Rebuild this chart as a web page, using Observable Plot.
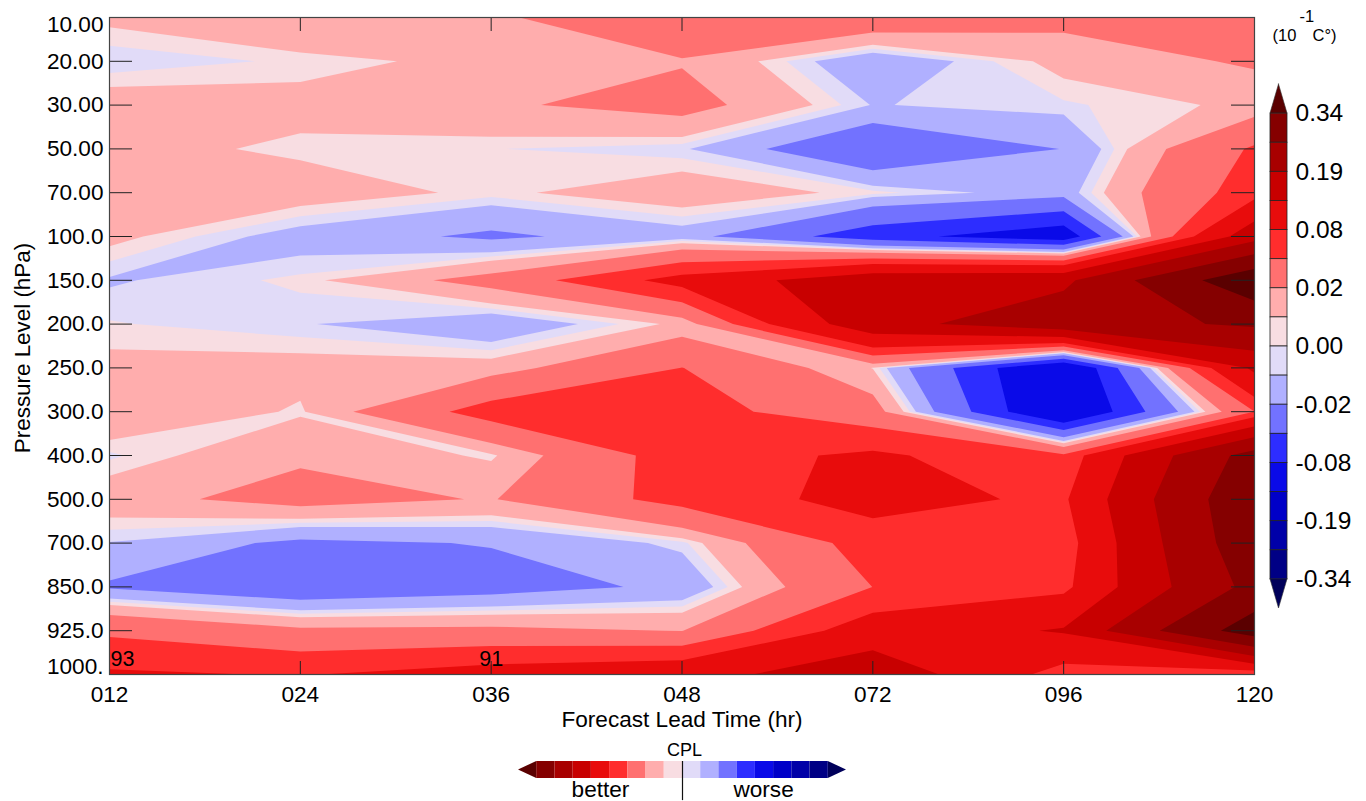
<!DOCTYPE html>
<html>
<head>
<meta charset="utf-8">
<script src="https://cdn.jsdelivr.net/npm/d3@7"></script>
<script src="https://cdn.jsdelivr.net/npm/@observablehq/plot@0.6"></script>
<style>
html,body{margin:0;padding:0;background:#fff;width:1366px;height:801px;overflow:hidden}
#page{position:relative;width:1366px;height:801px}
#page svg{position:absolute;max-width:none}
</style>
</head>
<body>
<div id="page"></div>
<script>
const leadTimes = ["012","024","036","048","072","096","120"];
const levels = ["10.00","20.00","30.00","50.00","70.00","100.0","150.0","200.0","250.0","300.0","400.0","500.0","700.0","850.0","925.0","1000."];

const h012 = [.0076,-.0042,.0115,.0095,.012,.0082,-.0061,.0006,.0083,.0166,-.0014,.0124,-.0055,-.0225,.044,.085];
const h024 = [.0198,.0013,.0091,.0027,.0115,-.01,.0016,-.004,.0095,.0035,.0165,.0285,-.0245,-.0386,.0244,.078];
const h036 = [.0165,.0086,.0172,.0003,.0025,-.0236,.028,-.0156,.0105,.063,.003,.0186,-.0188,-.0295,.025,.0965];
const h048 = [.04,.0185,.0279,-.0035,.013,-.0108,.0929,.0077,.0505,.062,.065,.0608,-.002,-.0158,.0195,.109];
const h072 = [.0382,-.0153,-.0055,-.0409,.0019,-.068,.168,.166,.0045,.03,.086,.0921,.064,.0502,.1007,.166];
const h096 = [.026,.0089,-.0011,-.0195,-.011,-.103,.176,.235,-.125,-.125,.055,.074,.061,.07,.1343,.0625];
const h120 = [.03,.0228,.0074,.054,.065,.165,.402,.2687,.14,.05,.29,.3195,.31,.282,.384,.049];
const columns = [h012,h024,h036,h048,h072,h096,h120];

const thresholds = [-.34,-.26,-.19,-.13,-.08,-.05,-.02,-.005,0,.005,.02,.05,.08,.13,.19,.26,.34];
const palette = ["#00005a","#000085","#0000a8","#0000c8","#0a0ae8","#2d2dff","#7272ff","#b0b0ff","#e1dbf8","#f8dde2","#ffadad","#ff7070","#ff2d2d","#e80c0c","#c80000","#a80000","#850000","#5a0000"];
const barLabels = ["0.34","0.19","0.08","0.02","0.00","-0.02","-0.08","-0.19","-0.34"];

const font = "'Liberation Sans', Arial, sans-serif";
const ink = "#222";
const labelSize = 22.6;
const grid = levels.flatMap((_, r) => columns.map(c => c[r]));
const rowIdx = levels.map((_, i) => i);
const colIdx = leadTimes.map((_, i) => i);
const innerRows = rowIdx.slice(1, -1);
const innerCols = colIdx.slice(1, -1);

const main = Plot.plot({
  width: 1366, height: 801,
  marginLeft: 109, marginRight: 112, marginTop: 17, marginBottom: 127,
  x: {domain: [0, 6], axis: null},
  y: {domain: [0, 15], range: [17, 674], axis: null},
  color: {type: "threshold", domain: thresholds, range: palette},
  style: {fontFamily: font, background: "white"},
  marks: [
    Plot.contour(grid, {width: 7, height: 16, x1: -0.5, x2: 6.5, y1: -0.5, y2: 15.5,
      fill: Plot.identity, thresholds, clip: true}),
    Plot.tickY(innerRows, {y: d => d, insetRight: 1122, stroke: ink, strokeWidth: 1}),
    Plot.tickY(innerRows, {y: d => d, insetLeft: 1122, stroke: ink, strokeWidth: 1}),
    Plot.tickX(innerCols, {x: d => d, insetBottom: 643, stroke: ink, strokeWidth: 1}),
    Plot.tickX(innerCols, {x: d => d, insetTop: 644, stroke: ink, strokeWidth: 1}),
    Plot.frame({stroke: "#444", strokeWidth: 1.2}),
    Plot.text(levels.slice(1, -1), {x: () => 0, y: (d, i) => i + 1, text: d => d, textAnchor: "end", dx: -6, fontSize: labelSize, fill: "#000"}),
    Plot.text(levels.slice(0, 1), {x: () => 0, y: () => 0, text: d => d, textAnchor: "end", dx: -6, dy: 7, fontSize: labelSize, fill: "#000"}),
    Plot.text(levels.slice(-1), {x: () => 0, y: () => 15, text: d => d, textAnchor: "end", dx: -6, dy: -8, fontSize: labelSize, fill: "#000"}),
    Plot.text(leadTimes, {x: (d, i) => i, y: () => 15, text: d => d, dy: 20, fontSize: labelSize, fill: "#000"}),
    Plot.text(["Forecast Lead Time (hr)"], {frameAnchor: "bottom", lineAnchor: "middle", dy: 45, fontSize: labelSize, fill: "#000"}),
    Plot.text(["Pressure Level (hPa)"], {frameAnchor: "left", textAnchor: "middle", lineAnchor: "middle", dx: -87, dy: 2, rotate: -90, fontSize: 22.4, fill: "#000"}),
    Plot.text(["93"], {x: () => 0, y: () => 15, dx: 13, dy: -15, fontSize: 21.5, fill: "#000"}),
    Plot.text(["91"], {x: () => 2, y: () => 15, dy: -15, fontSize: 21.5, fill: "#000"})
  ]
});

const reversed = palette.slice().reverse();
const cells = reversed.slice(1, -1).map((c, i) => ({i: i + 1, c}));

const vbar = Plot.plot({
  width: 100, height: 640,
  marginLeft: 4, marginRight: 79, marginTop: 84, marginBottom: 32,
  x: {domain: [0, 1], axis: null},
  y: {domain: [0, 18], range: [84, 608], axis: null},
  color: {type: "identity"},
  style: {fontFamily: font, background: "transparent"},
  marks: [
    Plot.areaX([{i: 0, a: .5, b: .5}, {i: 1, a: 0, b: 1}], {y: "i", x1: "a", x2: "b", fill: reversed[0], stroke: "#333", strokeWidth: .6}),
    Plot.areaX([{i: 17, a: 0, b: 1}, {i: 18, a: .5, b: .5}], {y: "i", x1: "a", x2: "b", fill: reversed[17], stroke: "#333", strokeWidth: .6}),
    Plot.rect(cells, {x1: () => 0, x2: () => 1, y1: "i", y2: d => d.i + 1, fill: "c", stroke: "#222", strokeWidth: .8}),
    Plot.text(barLabels, {x: () => 1, y: (d, i) => 2 * i + 1, text: d => d, textAnchor: "start", dx: 8, fontSize: 24.5, fill: "#000"}),
    Plot.text(["(10"], {frameAnchor: "top-left", textAnchor: "start", lineAnchor: "middle", dx: 2, dy: -49, fontSize: 16.5, fill: "#000"}),
    Plot.text(["-1"], {frameAnchor: "top-left", textAnchor: "start", lineAnchor: "middle", dx: 29, dy: -68, fontSize: 16.5, fill: "#000"}),
    Plot.text(["C°)"], {frameAnchor: "top-left", textAnchor: "start", lineAnchor: "middle", dx: 42, dy: -49, fontSize: 16.5, fill: "#000"})
  ]
});
vbar.style.left = "1266px"; vbar.style.top = "0px";

const hbar = Plot.plot({
  width: 360, height: 71,
  marginLeft: 18, marginRight: 14, marginTop: 31, marginBottom: 23,
  x: {domain: [0, 18], axis: null},
  y: {domain: [0, 1], axis: null},
  color: {type: "identity"},
  style: {fontFamily: font, background: "transparent"},
  marks: [
    Plot.areaY([{i: 0, a: .5, b: .5}, {i: 1, a: 0, b: 1}], {x: "i", y1: "a", y2: "b", fill: reversed[0]}),
    Plot.areaY([{i: 17, a: 0, b: 1}, {i: 18, a: .5, b: .5}], {x: "i", y1: "a", y2: "b", fill: reversed[17]}),
    Plot.rect(cells, {x1: "i", x2: d => d.i + 1, y1: () => 0, y2: () => 1, fill: "c"}),
    Plot.ruleX([9], {y1: 1, y2: -1.3, stroke: "#111", strokeWidth: 1.2}),
    Plot.text(["CPL"], {x: () => 9, y: () => 1, dx: 2, dy: -11, fontSize: 18, fill: "#000"}),
    Plot.text(["better"], {x: () => 4.5, y: () => 0, dy: 11, fontSize: labelSize, fill: "#000"}),
    Plot.text(["worse"], {x: () => 13.45, y: () => 0, dy: 11, fontSize: labelSize, fill: "#000"})
  ]
});
hbar.style.left = "500px"; hbar.style.top = "730px";

const page = document.getElementById("page");
main.style.left = "0px"; main.style.top = "0px";
page.append(main, vbar, hbar);
</script>
</body>
</html>
